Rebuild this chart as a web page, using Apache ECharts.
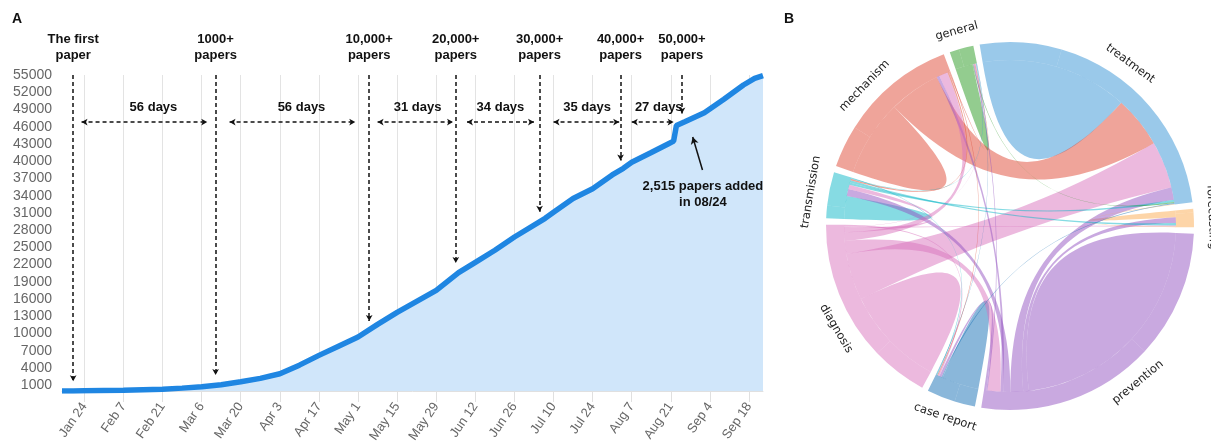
<!DOCTYPE html>
<html>
<head>
<meta charset="utf-8">
<script src="https://cdn.jsdelivr.net/npm/echarts@6/dist/echarts.min.js"></script>
<style>
html,body{margin:0;padding:0;background:#fff;}
#main{width:1211px;height:442px;}
</style>
</head>
<body>
<div id="main"></div>
<script>
// ---------- Panel A data ----------
const dates = ['2020-01-16','2020-01-20','2020-01-24','2020-02-07','2020-02-21','2020-02-28','2020-03-06','2020-03-13','2020-03-20','2020-03-27','2020-04-03','2020-04-10','2020-04-17','2020-04-24','2020-05-01','2020-05-08','2020-05-15','2020-05-29','2020-06-06','2020-06-12','2020-06-19','2020-06-26','2020-07-07','2020-07-10','2020-07-17','2020-07-24','2020-07-31','2020-08-04','2020-08-07','2020-08-14','2020-08-20','2020-08-22','2020-08-23','2020-08-26','2020-09-02','2020-09-09','2020-09-16','2020-09-20','2020-09-23'];
const counts = [0, 10, 60, 150, 300, 500, 750, 1100, 1600, 2200, 3000, 4500, 6200, 7800, 9400, 11600, 13700, 17500, 20600, 22400, 24500, 26800, 30060, 31100, 33500, 35200, 37600, 38760, 39800, 41500, 43000, 43500, 46200, 46870, 48440, 50770, 53260, 54420, 54900];

const xTickDates = ['2020-01-24','2020-02-07','2020-02-21','2020-03-06','2020-03-20','2020-04-03','2020-04-17','2020-05-01','2020-05-15','2020-05-29','2020-06-12','2020-06-26','2020-07-10','2020-07-24','2020-08-07','2020-08-21','2020-09-04','2020-09-18'];
const yTickValues = [1000,4000,7000,10000,13000,16000,19000,22000,25000,28000,31000,34000,37000,40000,43000,46000,49000,52000,55000];

// milestone annotations: title, date, arrow tip value
const milestoneTitles = ['The first\npaper','1000+\npapers','10,000+\npapers','20,000+\npapers','30,000+\npapers','40,000+\npapers','50,000+\npapers'];
const milestoneDates = ['2020-01-20','2020-03-11','2020-05-05','2020-06-05','2020-07-05','2020-08-03','2020-08-25'];
const milestoneTips = [1700, 2800, 12200, 22300, 31200, 40100, 48300];

// interval arrows
const intervalLabels = ['56 days','56 days','31 days','34 days','35 days','27 days'];
const intervalStarts = ['2020-01-23','2020-03-16','2020-05-08','2020-06-09','2020-07-10','2020-08-07'];
const intervalEnds = ['2020-03-08','2020-04-30','2020-06-04','2020-07-03','2020-08-02T12:00','2020-08-22'];
const intervalLabelDates = ['2020-02-17T18:00','2020-04-10T18:00','2020-05-22T08:00','2020-06-21','2020-07-22','2020-08-16T16:00'];

// ---------- Panel B data ----------
const topics = ['treatment','forecasting','prevention','case report','diagnosis','transmission','mechanism','general'];
const topicColors = ['#3593d5','#fbab51','#9353c1','#156fb5','#d973bd','#0db7c7','#e04a35','#27991f'];
// within-topic co-occurrence (ribbon back into the same topic)
const selfValues = [25.8, 1.2, 40.5, 6.5, 17.7, 4, 13.4, 3];
// between-topic co-occurrence
const linkSources = ['mechanism','diagnosis','prevention','prevention','prevention','prevention','diagnosis','diagnosis','diagnosis',
  'transmission','transmission','mechanism','general','prevention','mechanism','diagnosis','diagnosis','transmission',
  'case report','prevention','diagnosis','mechanism','transmission','case report','forecasting'];
const linkTargets = ['treatment','treatment','forecasting','treatment','transmission','mechanism','prevention','mechanism','transmission',
  'treatment','forecasting','transmission','treatment','general','general','forecasting','general','general',
  'treatment','case report','case report','case report','case report','general','treatment'];
const linkValues = [18, 16.4, 2, 4.4, 2.5, 1, 4.5, 3, 1.5,
  0.8, 0.8, 0.5, 0.3, 0.4, 0.3, 0.4, 0.2, 0.2,
  0.4, 0.8, 0.5, 0.3, 0.3, 0.2, 0.2];
const gapValue = 2; // spacing between topic arcs

const months = ['Jan','Feb','Mar','Apr','May','Jun','Jul','Aug','Sep','Oct','Nov','Dec'];

// day number relative to Jan 24, 2020 (UTC)
const DAY0 = Date.UTC(2020, 0, 24);
function dayNum(s) {
  const p = s.split('T');
  const d = p[0].split('-').map(Number);
  let h = 0, m = 0;
  if (p[1]) { const t = p[1].split(':').map(Number); h = t[0]; m = t[1] || 0; }
  return (Date.UTC(d[0], d[1] - 1, d[2], h, m) - DAY0) / 86400000;
}
function dayLabel(n) {
  const d = new Date(DAY0 + Math.round(n) * 86400000);
  return months[d.getUTCMonth()] + ' ' + d.getUTCDate();
}

const chart = echarts.init(document.getElementById('main'));

const lineData = dates.map((d, i) => [dayNum(d), counts[i]]);
const xTicks = xTickDates.map(dayNum);

const dashStyle = { color: '#111', width: 1.5, type: [4, 3] };

const markLines = [];
milestoneDates.forEach((d, i) => {
  markLines.push([
    { coord: [dayNum(d), 55000], symbol: 'none',
      lineStyle: dashStyle,
      label: { show: true, position: 'start', formatter: milestoneTitles[i], distance: 12,
               fontFamily: 'Liberation Sans', fontWeight: 'bold', fontSize: 13, lineHeight: 16, color: '#111' } },
    { coord: [dayNum(d), milestoneTips[i]], symbol: 'arrow', symbolSize: [5, 6] }
  ]);
});
intervalStarts.forEach((d, i) => {
  markLines.push([
    { coord: [dayNum(d), 46800], symbol: 'arrow', symbolSize: [5, 6], lineStyle: dashStyle, label: { show: false } },
    { coord: [dayNum(intervalEnds[i]), 46800], symbol: 'arrow', symbolSize: [5, 6] }
  ]);
});
// arrow pointing at the jump
markLines.push([
  { coord: [dayNum('2020-09-01T08:00'), 38450], symbol: 'none', lineStyle: { color: '#111', width: 1.5, type: 'solid' }, label: { show: false } },
  { coord: [dayNum('2020-08-28T20:00'), 44200], symbol: 'arrow', symbolSize: [6, 7] }
]);

const markPoints = intervalLabels.map((t, i) => ({
  coord: [dayNum(intervalLabelDates[i]), 49400],
  symbol: 'circle', symbolSize: 0,
  itemStyle: { color: 'transparent' },
  label: { show: true, position: 'inside', formatter: t, fontFamily: 'Liberation Sans', fontWeight: 'bold', fontSize: 13, color: '#111' }
}));
markPoints.push({
  coord: [dayNum('2020-09-01T12:00'), 34300],
  symbol: 'circle', symbolSize: 0,
  itemStyle: { color: 'transparent' },
  label: { show: true, position: 'inside', formatter: '2,515 papers added\nin 08/24', lineHeight: 16,
           fontFamily: 'Liberation Sans', fontWeight: 'bold', fontSize: 13, color: '#111' }
});

// Chord nodes: each topic arc is drawn as two touching parts so a within-topic
// ribbon can run from the first part into the second; transparent spacers separate topics.
const nodes = [];
topics.forEach((t, i) => {
  nodes.push({ name: t, itemStyle: { color: topicColors[i] } });
  nodes.push({ name: t + '\u200b', itemStyle: { color: topicColors[i] } });
  nodes.push({ name: 'gap' + i, value: gapValue, itemStyle: { color: 'rgba(0,0,0,0)', opacity: 0 } });
});
const links = [];
topics.forEach((t, i) => {
  links.push({ source: t, target: t + '\u200b', value: selfValues[i] });
});
linkSources.forEach((s, j) => {
  links.push({ source: s + '\u200b', target: linkTargets[j] + '\u200b', value: linkValues[j] });
});

const chordSeries = {
  type: 'chord',
  center: [1010, 226],
  radius: [166, 184],
  startAngle: 99.5,
  clockwise: true,
  padAngle: 0,
  minAngle: 0,
  itemStyle: { opacity: 0.5, borderWidth: 0, borderRadius: 0 },
  lineStyle: { color: 'source', opacity: 0.5 },
  label: { show: false },
  data: nodes,
  links: links
};

const baseGraphic = [
  { type: 'text', left: 12, top: 12, style: { text: 'A', font: 'bold 14px "Liberation Sans"', fill: '#111' } },
  { type: 'text', left: 784, top: 12, style: { text: 'B', font: 'bold 14px "Liberation Sans"', fill: '#111' } },
  { type: 'text', right: 450, top: 376, style: { text: 'Compound daily growth rate: 3.03%', font: 'bold 13px "Liberation Sans"', fill: '#111' } }
];

const option = {
  animation: false,
  graphic: baseGraphic,
  grid: { left: 62, right: 448, top: 75, bottom: 51, containLabel: false, outerBoundsMode: 'none' },
  xAxis: {
    type: 'value',
    min: dayNum('2020-01-16'), max: dayNum('2020-09-23'),
    axisLine: { show: true, lineStyle: { color: '#e0e0e0' } },
    axisTick: { show: true, length: 11, lineStyle: { color: '#e0e0e0' }, customValues: xTicks },
    splitLine: { show: true, lineStyle: { color: '#e3e3e3', width: 1 } },
    axisLabel: {
      customValues: xTicks, rotate: 55, margin: 13, color: '#666', fontSize: 13, fontFamily: 'Liberation Sans',
      formatter: v => dayLabel(v)
    }
  },
  yAxis: {
    type: 'value', min: 0, max: 55000, interval: 5000,
    axisLine: { show: false }, axisTick: { show: false }, splitLine: { show: false },
    axisLabel: { customValues: yTickValues, color: '#666', fontSize: 14, fontFamily: 'Liberation Sans', margin: 10,
                 formatter: v => String(v) }
  },
  series: [
    {
      type: 'line', data: lineData, showSymbol: false, symbol: 'none',
      lineStyle: { color: '#1f86e2', width: 5.5 },
      areaStyle: { color: '#d0e6fa', opacity: 1 },
      z: 2,
      markLine: { silent: true, animation: false, data: markLines, label: { show: false } },
      markPoint: { silent: true, animation: false, data: markPoints }
    },
    chordSeries
  ]
};
chart.setOption(option);

// tangential topic labels placed from the chord layout computed by ECharts
try {
  const data = chart.getModel().getSeriesByIndex(1).getData();
  const texts = [];
  const R = 202;
  topics.forEach((t, i) => {
    const la = data.getItemLayout(i * 3);
    const lb = data.getItemLayout(i * 3 + 1);
    if (!la || la.startAngle == null) throw new Error('no layout');
    const mid = (la.startAngle + lb.endAngle) / 2;
    const cx = la.cx != null ? la.cx : 1010, cy = la.cy != null ? la.cy : 226;
    const x = cx + R * Math.cos(mid), y = cy + R * Math.sin(mid);
    let deg = (mid * 180 / Math.PI) + 90; // clockwise from top
    deg = ((deg % 360) + 360) % 360;
    let rot = deg;
    if (deg > 90 && deg < 270) rot = deg - 180;
    if (rot > 180) rot -= 360;
    texts.push({ type: 'text', x: x, y: y, rotation: -rot * Math.PI / 180,
      style: { text: t, font: '11.5px "DejaVu Sans"', fill: '#222', align: 'center', verticalAlign: 'middle', textAlign: 'center', textVerticalAlign: 'middle' } });
  });
  chart.setOption({ graphic: baseGraphic.concat(texts) });
} catch (e) { console.error('label fallback: ' + e.message); }
</script>
</body>
</html>
